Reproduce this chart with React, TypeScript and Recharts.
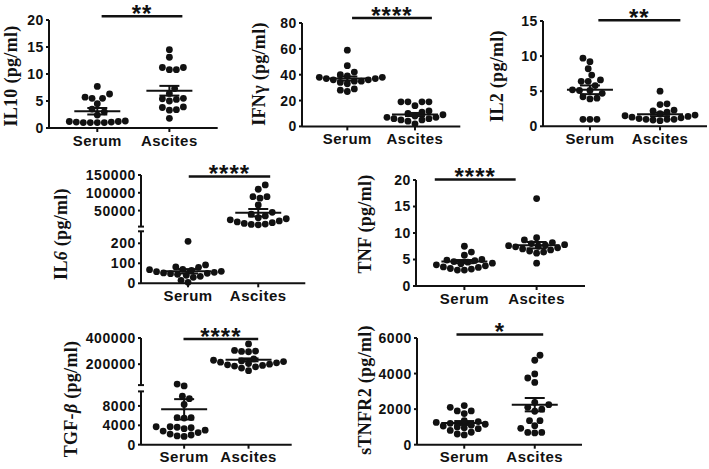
import React from "react";
import { ScatterChart, Scatter, XAxis, YAxis, ReferenceLine } from "recharts";

const groups = ["Serum", "Ascites"];

// IL10 (pg/ml)
const il10Serum = [7.7, 6.3, 5.5, 5.5, 5.7, 4.5, 3.5, 3.0, 2.4, 1.3, 1.2, 1.2, 1.1, 1.1, 1.0, 1.0, 1.0, 1.0];
const il10Ascites = [14.5, 13.1, 11.2, 11.2, 10.8, 10.8, 7.3, 6.4, 5.5, 5.3, 5.0, 5.4, 3.8, 3.9, 3.4, 3.3, 1.8];
const il10Mean = [3.1, 6.9];
const il10Sem = [0.6, 0.9];
const il10Ticks = [0, 5, 10, 15, 20];

// IFNγ (pg/ml)
const ifngSerum = [59, 47, 42, 40, 39, 38, 38, 37, 37, 36, 36, 35, 35, 34, 33, 29, 28, 27];
const ifngAscites = [19, 19, 19, 19, 16, 12, 11, 10, 9, 8, 7, 7, 6, 6, 5, 5, 4, 2];
const ifngMean = [37, 9.2];
const ifngSem = [1.6, 1.2];
const ifngTicks = [0, 20, 40, 60, 80];

// IL2 (pg/ml)
const il2Serum = [9.7, 9.2, 8.2, 7.3, 6.6, 6.4, 6.4, 5.8, 5.2, 5.1, 5.1, 4.7, 4.2, 4.0, 3.9, 1.0, 1.0, 1.0];
const il2Ascites = [5.0, 3.2, 3.1, 2.3, 2.2, 2.0, 1.8, 1.6, 1.5, 1.4, 1.3, 1.2, 1.1, 1.0, 1.0, 1.0, 0.9, 0.8];
const il2Mean = [5.2, 1.7];
const il2Sem = [0.62, 0.25];
const il2Ticks = [0, 5, 10, 15];

// IL6 (pg/ml), broken axis
const il6Serum = [210, 92, 82, 80, 70, 68, 65, 60, 58, 55, 52, 50, 48, 45, 40, 35, 30, 15, 5];
const il6Ascites = [122000, 110000, 89000, 85000, 89000, 66000, 45000, 40000, 35000, 30000, 27000, 24000, 21000, 18000, 16000, 14000, 12000, 11000, 10000];
const il6Mean = [60, 44000];
const il6Sem = [11, 10500];
const il6Ticks = [0, 100, 200, 50000, 100000, 150000];

// TNF (pg/ml)
const tnfSerum = [7.5, 6.4, 5.8, 5.0, 4.9, 4.8, 4.6, 4.5, 4.3, 4.2, 4.0, 3.8, 3.6, 3.5, 3.3, 3.2, 3.0, 3.0];
const tnfAscites = [16.5, 9.1, 8.7, 8.2, 8.0, 7.8, 7.7, 7.6, 7.5, 7.4, 7.2, 7.0, 6.8, 6.6, 6.4, 6.2, 4.3];
const tnfMean = [4.6, 7.7];
const tnfSem = [0.3, 0.6];
const tnfTicks = [0, 5, 10, 15, 20];

// TGF-β (pg/ml), broken axis
const tgfSerum = [48000, 36000, 10000, 9500, 8300, 5600, 5600, 5500, 3700, 3700, 3600, 3500, 3300, 3000, 2800, 2500, 2200, 2000, 1800, 1700];
const tgfAscites = [355000, 305000, 300000, 297000, 295000, 240000, 230000, 225000, 220000, 215000, 210000, 205000, 200000, 195000, 190000, 185000, 180000, 170000, 150000];
const tgfMean = [7300, 233000];
const tgfSem = [2100, 11000];
const tgfTicks = [0, 4000, 8000, 200000, 400000];

// sTNFR2 (pg/ml)
const stnfr2Serum = [2200, 2100, 1900, 1900, 1750, 1350, 1300, 1250, 1200, 1150, 1100, 1050, 1000, 950, 900, 800, 700, 600, 550];
const stnfr2Ascites = [5030, 4750, 3980, 3750, 3500, 2380, 2250, 2100, 2000, 1880, 1350, 1350, 1070, 920, 690, 690, 660];
const stnfr2Mean = [1220, 2250];
const stnfr2Sem = [110, 375];
const stnfr2Ticks = [0, 2000, 4000, 6000];

const INK = "#111";
const SANS = "Arial, 'Liberation Sans', sans-serif";
const X_LO = 0.33;
const X_HI = 2.67;

type Seg = { lo: number; hi: number; px: number };

// value -> pixels above the zero line, across axis breaks
function mapV(v: number, segs: Seg[], gap: number) {
  let base = 0;
  for (let i = 0; i < segs.length; i++) {
    const s = segs[i];
    const next = segs[i + 1];
    if (!next || v <= s.hi) return base + ((v - s.lo) / (s.hi - s.lo)) * s.px;
    if (v < next.lo) return base + s.px + ((v - s.hi) / (next.lo - s.hi)) * gap;
    base += s.px + gap;
  }
  return base;
}

// simple beeswarm, offsets returned in x units
function swarm(vals: number[], toPx: (v: number) => number, unitPx: number, d = 7) {
  const order = vals.map((v, i) => ({ i, y: toPx(v) })).sort((a, b) => a.y - b.y);
  const placed: { x: number; y: number }[] = [];
  const out = new Array(vals.length).fill(0);
  const step = d / 4;
  for (const p of order) {
    for (let k = 0; k < 300; k++) {
      const sign = placed.length % 2 ? -1 : 1;
      const cand = k === 0 ? [0] : [sign * k * step, -sign * k * step];
      const hit = cand.find((c) => placed.every((q) => (q.x - c) ** 2 + (q.y - p.y) ** 2 >= d * d * 0.98));
      if (hit !== undefined) {
        placed.push({ x: hit, y: p.y });
        out[p.i] = hit / unitPx;
        break;
      }
    }
  }
  return out;
}

const Dot = (props: any) => <circle cx={props.cx} cy={props.cy} r={3.4} fill={INK} />;

interface PanelDef {
  x: number;
  top: number;
  zero: number;
  right: number;
  segs: Seg[];
  gap: number;
  serum: number[];
  ascites: number[];
  mean: number[];
  sem: number[];
  ticks: number[];
  sig: string;
  sigX: [number, number];
  sigY: number;
}

function Panel({ p }: { p: PanelDef }) {
  const H = p.zero - p.top;
  const W = p.right - p.x;
  const u = W / (X_HI - X_LO);
  const toV = (v: number) => mapV(v, p.segs, p.gap);
  const pts = [p.serum, p.ascites].map((vals, g) => {
    const off = swarm(vals, toV, u);
    return vals.map((v, i) => ({ x: g + 1 + off[i], y: toV(v) }));
  });
  const tickMap = new Map(p.ticks.map((t) => [toV(t).toFixed(3), String(t)]));
  const line = { stroke: INK, strokeWidth: 2, ifOverflow: "visible" as const };

  const axisParts: JSX.Element[] = [];
  let base = 0;
  p.segs.forEach((s, i) => {
    axisParts.push(
      <ReferenceLine key={`ax${i}`} {...line} segment={[{ x: X_LO, y: base }, { x: X_LO, y: base + s.px }]} />
    );
    if (p.segs.length > 1) {
      const capY = i === 0 ? base + s.px : base;
      axisParts.push(
        <ReferenceLine
          key={`cap${i}`}
          {...line}
          segment={[{ x: X_LO - 3 / u, y: capY }, { x: X_LO + 3 / u, y: capY }]}
        />
      );
    }
    base += s.px + p.gap;
  });

  const errParts: JSX.Element[] = [];
  p.mean.forEach((m, g) => {
    const cx = g + 1;
    const ym = toV(m);
    const y1 = toV(m - p.sem[g]);
    const y2 = toV(m + p.sem[g]);
    errParts.push(
      <ReferenceLine key={`m${g}`} {...line} segment={[{ x: cx - 23 / u, y: ym }, { x: cx + 23 / u, y: ym }]} />,
      <ReferenceLine key={`s${g}`} {...line} segment={[{ x: cx, y: y1 }, { x: cx, y: y2 }]} />,
      <ReferenceLine key={`c1${g}`} {...line} segment={[{ x: cx - 10 / u, y: y1 }, { x: cx + 10 / u, y: y1 }]} />,
      <ReferenceLine key={`c2${g}`} {...line} segment={[{ x: cx - 10 / u, y: y2 }, { x: cx + 10 / u, y: y2 }]} />
    );
  });

  const sigV = toV(p.sigY);

  return (
    <div style={{ position: "absolute", left: p.x - 70, top: p.top - 30 }}>
      <ScatterChart width={W + 72} height={H + 60} margin={{ top: 30, right: 2, bottom: 0, left: 0 }}>
        <XAxis
          type="number"
          dataKey="x"
          domain={[X_LO, X_HI]}
          ticks={[1, 2]}
          interval={0}
          tickFormatter={(v: number) => groups[Math.round(v) - 1]}
          height={30}
          axisLine={{ stroke: INK, strokeWidth: 2 }}
          tickLine={{ stroke: INK, strokeWidth: 2 }}
          tickSize={4}
          tickMargin={3}
          tick={{ fill: INK, fontSize: 15, fontWeight: 700, fontFamily: SANS, letterSpacing: 0.5 }}
        />
        <YAxis
          type="number"
          dataKey="y"
          domain={[0, H]}
          ticks={p.ticks.map(toV)}
          interval={0}
          tickFormatter={(v: number) => tickMap.get(v.toFixed(3)) ?? ""}
          width={70}
          axisLine={false}
          tickLine={{ stroke: INK, strokeWidth: 2 }}
          tickSize={3}
          tickMargin={2}
          tick={{ fill: INK, fontSize: 14, fontWeight: 700, fontFamily: SANS, letterSpacing: 0.6 }}
        />
        {axisParts}
        <Scatter data={pts[0]} shape={Dot} isAnimationActive={false} />
        <Scatter data={pts[1]} shape={Dot} isAnimationActive={false} />
        {errParts}
        <ReferenceLine
          stroke={INK}
          strokeWidth={2.5}
          ifOverflow="visible"
          segment={[{ x: p.sigX[0], y: sigV }, { x: p.sigX[1], y: sigV }]}
          label={{
            value: p.sig,
            position: "top",
            offset: -5.5,
            fontSize: 24,
            fontWeight: 700,
            fill: INK,
            fontFamily: SANS,
            letterSpacing: 1,
          }}
        />
      </ScatterChart>
    </div>
  );
}

const panels: PanelDef[] = [
  {
    x: 49.3, top: 20.3, zero: 128.3, right: 218,
    segs: [{ lo: 0, hi: 20, px: 108 }], gap: 0,
    serum: il10Serum, ascites: il10Ascites, mean: il10Mean, sem: il10Sem, ticks: il10Ticks,
    sig: "**", sigX: [1.06, 2.18], sigY: 20.7,
  },
  {
    x: 301.7, top: 23.3, zero: 126.7, right: 460,
    segs: [{ lo: 0, hi: 80, px: 103.4 }], gap: 0,
    serum: ifngSerum, ascites: ifngAscites, mean: ifngMean, sem: ifngSem, ticks: ifngTicks,
    sig: "****", sigX: [1.07, 2.25], sigY: 83.8,
  },
  {
    x: 542.7, top: 20.7, zero: 126, right: 706.7,
    segs: [{ lo: 0, hi: 15, px: 105.3 }], gap: 0,
    serum: il2Serum, ascites: il2Ascites, mean: il2Mean, sem: il2Sem, ticks: il2Ticks,
    sig: "**", sigX: [1.12, 2.29], sigY: 15.1,
  },
  {
    x: 140.7, top: 175, zero: 283.3, right: 305,
    segs: [{ lo: 0, hi: 260, px: 52 }, { lo: 5000, hi: 150000, px: 51.6 }], gap: 4.7,
    serum: il6Serum, ascites: il6Ascites, mean: il6Mean, sem: il6Sem, ticks: il6Ticks,
    sig: "****", sigX: [1.01, 2.17], sigY: 146000,
  },
  {
    x: 416, top: 180, zero: 286, right: 585,
    segs: [{ lo: 0, hi: 20, px: 106 }], gap: 0,
    serum: tnfSerum, ascites: tnfAscites, mean: tnfMean, sem: tnfSem, ticks: tnfTicks,
    sig: "****", sigX: [0.59, 1.71], sigY: 20.1,
  },
  {
    x: 141, top: 338.3, zero: 445, right: 291.7,
    segs: [{ lo: 0, hi: 11000, px: 53.3 }, { lo: 40000, hi: 400000, px: 47.1 }], gap: 6.3,
    serum: tgfSerum, ascites: tgfAscites, mean: tgfMean, sem: tgfSem, ticks: tgfTicks,
    sig: "****", sigX: [0.99, 2.15], sigY: 392000,
  },
  {
    x: 416.7, top: 338.3, zero: 445, right: 581.7,
    segs: [{ lo: 0, hi: 6000, px: 106.7 }], gap: 0,
    serum: stnfr2Serum, ascites: stnfr2Ascites, mean: stnfr2Mean, sem: stnfr2Sem, ticks: stnfr2Ticks,
    sig: "*", sigX: [0.89, 2.12], sigY: 6190,
  },
];

const yLabels = [
  { text: <>IL10 (pg/ml)</>, x: 11, y: 76 },
  { text: <>IFNγ (pg/ml)</>, x: 259, y: 74 },
  { text: <>IL2 (pg/ml)</>, x: 497, y: 76 },
  { text: <>IL<i>6</i> (pg/ml)</>, x: 61, y: 234 },
  { text: <>TNF (pg/ml)</>, x: 365, y: 224 },
  { text: <>TGF-<i>β</i> (pg/ml)</>, x: 71, y: 399 },
  { text: <>sTNFR2 (pg/ml)</>, x: 365, y: 390 },
];

export default function App() {
  return (
    <div style={{ position: "absolute", left: 0, top: 0, width: 709, height: 469, background: "#fff", overflow: "hidden" }}>
      {panels.map((p, i) => (
        <Panel key={i} p={p} />
      ))}
      {yLabels.map((l, i) => (
        <div
          key={i}
          style={{
            position: "absolute",
            left: l.x,
            top: l.y,
            transform: "translate(-50%, -50%) rotate(-90deg)",
            whiteSpace: "nowrap",
            lineHeight: 1,
            fontFamily: "'Liberation Serif', 'Times New Roman', serif",
            fontWeight: 700,
            fontSize: 18,
            letterSpacing: 0.3,
            color: INK,
          }}
        >
          {l.text}
        </div>
      ))}
    </div>
  );
}
